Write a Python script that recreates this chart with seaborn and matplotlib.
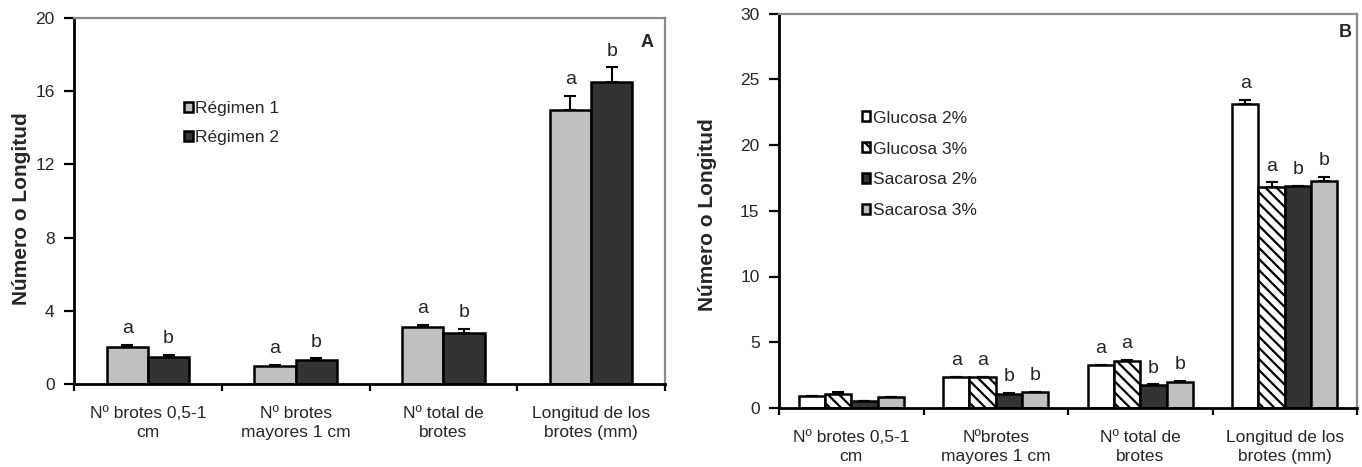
import pandas as pd
import numpy as np
import matplotlib
matplotlib.use('Agg')
import matplotlib.pyplot as plt
import seaborn as sns

# ---- data ----
cats_a = ['Nº brotes 0,5-1\ncm', 'Nº brotes\nmayores 1 cm', 'Nº total de\nbrotes', 'Longitud de los\nbrotes (mm)']
reg1 = [2.0, 1.0, 3.1, 15.0]
reg1_err = [0.12, 0.05, 0.12, 0.75]
reg2 = [1.5, 1.3, 2.8, 16.5]
reg2_err = [0.1, 0.1, 0.2, 0.8]
letters_reg1 = ['a', 'a', 'a', 'a']
letters_reg2 = ['b', 'b', 'b', 'b']

cats_b = ['Nº brotes 0,5-1\ncm', 'Nºbrotes\nmayores 1 cm', 'Nº total de\nbrotes', 'Longitud de los\nbrotes (mm)']
glu2 = [0.9, 2.35, 3.25, 23.1]
glu2_err = [0.03, 0.03, 0.03, 0.35]
glu3 = [1.1, 2.33, 3.55, 16.8]
glu3_err = [0.1, 0.03, 0.1, 0.35]
sac2 = [0.55, 1.1, 1.77, 16.85]
sac2_err = [0.02, 0.03, 0.03, 0.05]
sac3 = [0.8, 1.2, 2.0, 17.25]
sac3_err = [0.03, 0.03, 0.03, 0.33]
letters_glu2 = ['', 'a', 'a', 'a']
letters_glu3 = ['', 'a', 'a', 'a']
letters_sac2 = ['', 'b', 'b', 'b']
letters_sac3 = ['', 'b', 'b', 'b']

sns.set_theme(style='white')
plt.rcParams['font.family'] = ['Liberation Sans', 'DejaVu Sans']
plt.rcParams['hatch.linewidth'] = 1.6

fig = plt.figure(figsize=(13.62, 4.67), dpi=100)
ax_a = fig.add_axes([74/1362, 1-384/467, (665-74)/1362, (384-18)/467])
ax_b = fig.add_axes([779/1362, 1-408/467, (1357-779)/1362, (408-13.5)/467])


def long_df(cats, series):
    rows = []
    for name, vals in series.items():
        for c, v in zip(cats, vals):
            rows.append({'cat': c, 'grupo': name, 'valor': v})
    return pd.DataFrame(rows)


def style_axes(ax, top, cats, label_xy):
    ax.set_xlim(-0.5, 3.5)
    ax.set_ylim(0, top)
    for s in ['top', 'right']:
        ax.spines[s].set_color('#8a8a8a')
        ax.spines[s].set_linewidth(1.6)
    for s in ['left', 'bottom']:
        ax.spines[s].set_color('black')
        ax.spines[s].set_linewidth(2)
    ax.set_xticks([-0.5, 0.5, 1.5, 2.5, 3.5])
    ax.set_xticklabels([])
    ax.set_xticks([0, 1, 2, 3], minor=True)
    ax.set_xticklabels(cats, minor=True)
    for t in ax.get_xticklabels(minor=True):
        t.set_linespacing(1.35)
    ax.tick_params(axis='x', which='major', direction='out', length=5, width=1.6, color='black', bottom=True)
    ax.tick_params(axis='x', which='minor', length=0, pad=15.5, labelsize=12.5, bottom=True)
    ax.tick_params(axis='y', direction='out', length=7, width=1.6, color='black', left=True,
                   labelsize=12.5, pad=7)
    ax.set_xlabel('')
    ax.set_ylabel('Número o Longitud', fontsize=15, fontweight='bold', va='center')
    ax.yaxis.set_label_coords(*label_xy)
    ax.grid(False)


def add_err_letters(ax, vals, errs, letters):
    for cont, v, e, let in zip(ax.containers, vals, errs, letters):
        xs = [b.get_x() + b.get_width() / 2 for b in cont.patches]
        ax.errorbar(xs, v, yerr=[np.zeros(len(e)), e], fmt='none', ecolor='black',
                    elinewidth=1.5, capsize=4, capthick=1.5, zorder=1)
        for x, yv, ye, t in zip(xs, v, e, let):
            if t:
                ax.annotate(t, (x, yv + ye), xytext=(0, 8.5), textcoords='offset points',
                            ha='center', va='baseline', fontsize=14)


# ---- panel A ----
df_a = long_df(cats_a, {'Régimen 1': reg1, 'Régimen 2': reg2})
sns.barplot(data=df_a, x='cat', y='valor', hue='grupo', ax=ax_a, width=0.56,
            palette=['#c0c0c0', '#333333'], edgecolor='black', linewidth=1.8,
            errorbar=None, legend=False)
style_axes(ax_a, 20, cats_a, (-0.088, 0.48))
ax_a.set_yticks([0, 4, 8, 12, 16, 20])
add_err_letters(ax_a, [reg1, reg2], [reg1_err, reg2_err], [letters_reg1, letters_reg2])
ax_a.legend(ax_a.containers, ['Régimen 1', 'Régimen 2'], loc='upper left',
            bbox_to_anchor=(0.186, 0.774), frameon=False, fontsize=12.5,
            handlelength=0.5, handleheight=0.5, handletextpad=0.15, labelspacing=0.85,
            borderpad=0, borderaxespad=0)
ax_a.text(0.9695, 0.934, 'A', transform=ax_a.transAxes, ha='center', va='center',
          fontsize=13, fontweight='bold')

# ---- panel B ----
df_b = long_df(cats_b, {'Glucosa 2%': glu2, 'Glucosa 3%': glu3,
                        'Sacarosa 2%': sac2, 'Sacarosa 3%': sac3})
sns.barplot(data=df_b, x='cat', y='valor', hue='grupo', ax=ax_b, width=0.73,
            palette=['white', 'white', '#333333', '#c0c0c0'], edgecolor='black',
            linewidth=1.8, errorbar=None, legend=False)
for bar in ax_b.containers[1].patches:
    bar.set_hatch('\\\\\\')
style_axes(ax_b, 30, cats_b, (-0.123, 0.49))
ax_b.set_yticks([0, 5, 10, 15, 20, 25, 30])
add_err_letters(ax_b, [glu2, glu3, sac2, sac3],
                [glu2_err, glu3_err, sac2_err, sac3_err],
                [letters_glu2, letters_glu3, letters_sac2, letters_sac3])
ax_b.legend(ax_b.containers, ['Glucosa 2%', 'Glucosa 3%', 'Sacarosa 2%', 'Sacarosa 3%'],
            loc='upper left', bbox_to_anchor=(0.143, 0.754), frameon=False, fontsize=12.5,
            handlelength=0.5, handleheight=0.5, handletextpad=0.15, labelspacing=0.92,
            borderpad=0, borderaxespad=0)
ax_b.text(0.979, 0.953, 'B', transform=ax_b.transAxes, ha='center', va='center',
          fontsize=13, fontweight='bold')

fig.savefig('out.png', dpi=100)
